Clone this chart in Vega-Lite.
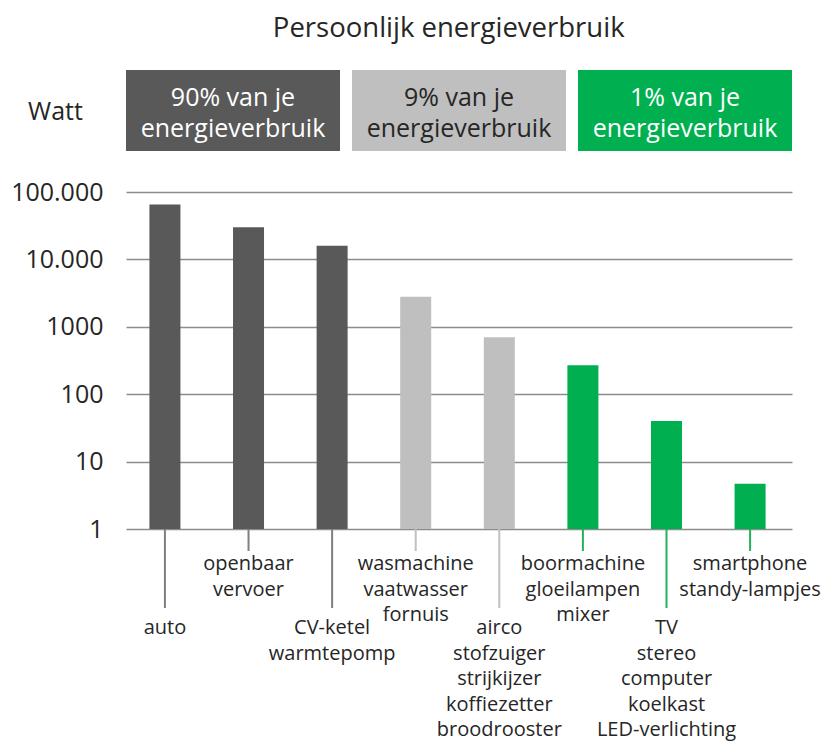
{
  "$schema": "https://vega.github.io/schema/vega-lite/v6.json",
  "background": "white",
  "padding": {"left": 10, "top": 14, "right": 5, "bottom": 0},
  "autosize": {"type": "pad"},
  "title": {"text": "Persoonlijk energieverbruik", "fontSize": 27.5, "font": "Open Sans", "fontWeight": "normal", "color": "#262626", "offset": 28, "anchor": "middle", "dx": 33},
  "config": {"view": {"stroke": null}},
  "datasets": {
    "groepen": [
      {"groep": "90%", "kop": "90% van je\nenergieverbruik"},
      {"groep": "9%", "kop": "9% van je\nenergieverbruik"},
      {"groep": "1%", "kop": "1% van je\nenergieverbruik"}
    ],
    "verbruik": [
      {"item": "auto", "watt": 65000, "groep": "90%", "niveau": 2, "label": "auto"},
      {"item": "openbaar vervoer", "watt": 30000, "groep": "90%", "niveau": 1, "label": "openbaar\nvervoer"},
      {"item": "CV-ketel", "watt": 16000, "groep": "90%", "niveau": 2, "label": "CV-ketel\nwarmtepomp"},
      {"item": "wasmachine", "watt": 2800, "groep": "9%", "niveau": 1, "label": "wasmachine\nvaatwasser\nfornuis"},
      {"item": "airco", "watt": 700, "groep": "9%", "niveau": 2, "label": "airco\nstofzuiger\nstrijkijzer\nkoffiezetter\nbroodrooster"},
      {"item": "boormachine", "watt": 270, "groep": "1%", "niveau": 1, "label": "boormachine\ngloeilampen\nmixer"},
      {"item": "TV", "watt": 40, "groep": "1%", "niveau": 2, "label": "TV\nstereo\ncomputer\nkoelkast\nLED-verlichting"},
      {"item": "smartphone", "watt": 4.7, "groep": "1%", "niveau": 1, "label": "smartphone\nstandy-lampjes"}
    ]
  },
  "bounds": "flush",
  "spacing": 41,
  "resolve": {"scale": {"color": "independent", "x": "independent", "y": "independent"}},
  "vconcat": [
    {
      "width": 666,
      "height": 81,
      "data": {"name": "groepen"},
      "layer": [
        {
          "mark": {"type": "rect"},
          "encoding": {
            "x": {"field": "groep", "type": "nominal", "sort": null, "scale": {"domain": ["90%", "9%", "1%"], "paddingInner": 0.053, "paddingOuter": 0}, "axis": null},
            "color": {"field": "groep", "type": "nominal", "scale": {"domain": ["90%", "9%", "1%"], "range": ["#595959", "#bfbfbf", "#00b050"]}, "legend": null}
          }
        },
        {
          "mark": {"type": "text", "lineBreak": "\n", "fontSize": 25, "font": "Open Sans", "baseline": "middle", "lineHeight": 31, "dy": -13},
          "encoding": {
            "x": {"field": "groep", "type": "nominal", "sort": null, "scale": {"domain": ["90%", "9%", "1%"], "paddingInner": 0.053, "paddingOuter": 0}, "axis": null},
            "text": {"field": "kop"},
            "color": {"condition": {"test": "datum.groep === '9%'", "value": "#262626"}, "value": "#ffffff"}
          }
        }
      ]
    },
    {
      "bounds": "flush",
      "spacing": 0,
      "resolve": {"scale": {"color": "independent", "x": "independent", "y": "independent"}},
      "vconcat": [
        {
          "width": 666,
          "height": 337,
          "data": {"name": "verbruik"},
          "mark": {"type": "bar"},
          "encoding": {
            "x": {"field": "item", "type": "nominal", "sort": null, "scale": {"domain": ["auto", "openbaar vervoer", "CV-ketel", "wasmachine", "airco", "boormachine", "TV", "smartphone"], "paddingInner": 0.629, "paddingOuter": 0.298, "align": 0.47}, "axis": null},
            "y": {
              "field": "watt", "type": "quantitative", "stack": null,
              "scale": {"type": "log", "domain": [1, 100000], "nice": false},
              "axis": {
                "values": [1, 10, 100, 1000, 10000, 100000],
                "labelExpr": "datum.value == 100000 ? '100.000' : datum.value == 10000 ? '10.000' : format(datum.value, 'd')",
                "grid": true, "gridColor": "#8c8c8c", "gridWidth": 1.5,
                "domain": false, "ticks": false,
                "labelFontSize": 25, "labelFont": "Open Sans", "labelColor": "#262626", "labelPadding": 23, "labelBaseline": "middle",
                "title": "Watt", "titleAngle": 0, "titleX": -71, "titleY": -81, "titleAlign": "center", "titleBaseline": "middle",
                "titleFontSize": 25, "titleFont": "Open Sans", "titleFontWeight": "normal", "titleColor": "#262626"
              }
            },
            "y2": {"datum": 1},
            "color": {"field": "groep", "type": "nominal", "scale": {"domain": ["90%", "9%", "1%"], "range": ["#595959", "#bfbfbf", "#00b050"]}, "legend": null}
          }
        },
        {
          "width": 666,
          "height": 216,
          "data": {"name": "verbruik"},
          "resolve": {"scale": {"y": "independent"}},
          "layer": [
            {
              "mark": {"type": "rule", "strokeWidth": 2},
              "encoding": {
                "x": {"field": "item", "type": "nominal", "sort": null, "scale": {"domain": ["auto", "openbaar vervoer", "CV-ketel", "wasmachine", "airco", "boormachine", "TV", "smartphone"], "paddingInner": 0.629, "paddingOuter": 0.298, "align": 0.47}, "axis": null},
                "y": {"field": "niveau", "type": "quantitative", "scale": {"domain": [1, 2], "range": [22, 79], "zero": false, "nice": false}, "axis": null},
                "y2": {"value": 0},
                "stroke": {"field": "groep", "type": "nominal", "scale": {"domain": ["90%", "9%", "1%"], "range": ["#7f7f7f", "#c0c0c0", "#22b35a"]}, "legend": null}
              }
            },
            {
              "mark": {"type": "text", "lineBreak": "\n", "baseline": "top", "fontSize": 20, "font": "Open Sans", "lineHeight": 25.5, "color": "#262626"},
              "encoding": {
                "x": {"field": "item", "type": "nominal", "sort": null, "scale": {"domain": ["auto", "openbaar vervoer", "CV-ketel", "wasmachine", "airco", "boormachine", "TV", "smartphone"], "paddingInner": 0.629, "paddingOuter": 0.298, "align": 0.47}, "axis": null},
                "y": {"field": "niveau", "type": "quantitative", "scale": {"domain": [1, 2], "range": [25, 89], "zero": false, "nice": false}, "axis": null},
                "text": {"field": "label"}
              }
            }
          ]
        }
      ]
    }
  ]
}
